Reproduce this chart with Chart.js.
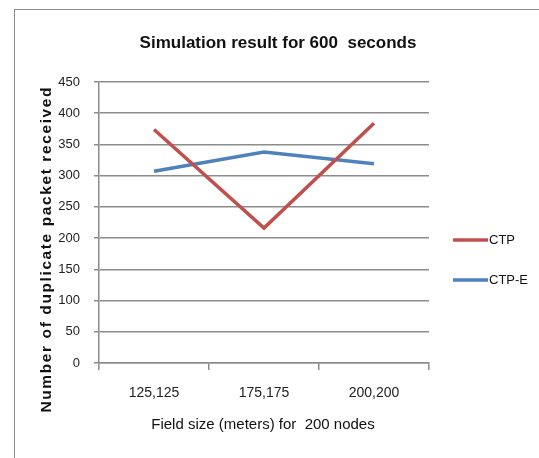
<!DOCTYPE html>
<html>
<head>
<meta charset="utf-8">
<script src="https://cdn.jsdelivr.net/npm/chart.js@4.4.1/dist/chart.umd.min.js"></script>
<style>
  html, body { margin: 0; padding: 0; background: #fff; }
  #wrap { width: 539px; height: 458px; position: relative; }
</style>
</head>
<body>
<div id="wrap"><canvas id="c" width="539" height="458"></canvas></div>
<script>
// data
const categories = ["125,125", "175,175", "200,200"];
const ctpValues = [374, 216, 384];
const ctpEValues = [307, 338, 319];
const seriesNames = ["CTP", "CTP-E"];
const yTicks = [0, 50, 100, 150, 200, 250, 300, 350, 400, 450];

const FONT = "'Liberation Sans', Arial, sans-serif";
const RED = "#c0504d";
const BLUE = "#4f81bd";
const GRID = "#8c8c8c";

// draws text with extra spacing so it spans a given width
function spacedText(ctx, text, cx, cy, targetW) {
  const w = ctx.measureText(text).width;
  const gap = Math.max(0, (targetW - w) / (text.length - 1));
  let x = cx - (w + gap * (text.length - 1)) / 2;
  ctx.textAlign = "left";
  for (const ch of text) {
    ctx.fillText(ch, x, cy);
    x += ctx.measureText(ch).width + gap;
  }
}

// frame, titles and legend drawn around the plot
const decorPlugin = {
  id: "decorPlugin",
  afterDraw(chart) {
    const { ctx } = chart;
    ctx.save();

    // outer frame (only top/left visible in the crop)
    ctx.strokeStyle = "#8a8a8a";
    ctx.lineWidth = 1;
    ctx.beginPath();
    ctx.moveTo(14.5, 458);
    ctx.lineTo(14.5, 9.5);
    ctx.lineTo(539, 9.5);
    ctx.stroke();

    // main title
    ctx.fillStyle = "#111";
    ctx.font = "bold 17px " + FONT;
    ctx.textAlign = "center";
    ctx.textBaseline = "middle";
    ctx.fillText("Simulation result for 600  seconds", 278, 43);

    // x title
    ctx.font = "15px " + FONT;
    ctx.fillText("Field size (meters) for  200 nodes", 263, 425);

    // y title
    ctx.save();
    ctx.translate(47, 250);
    ctx.rotate(-Math.PI / 2);
    ctx.font = "bold 15.5px " + FONT;
    spacedText(ctx, "Number of duplicate packet received", 0, 0, 325);
    ctx.restore();

    // legend
    const items = [
      { label: seriesNames[0], color: RED, y: 240 },
      { label: seriesNames[1], color: BLUE, y: 280 },
    ];
    ctx.textAlign = "left";
    ctx.font = "13px " + FONT;
    items.forEach((it) => {
      ctx.strokeStyle = it.color;
      ctx.lineWidth = 3.5;
      ctx.beginPath();
      ctx.moveTo(453, it.y);
      ctx.lineTo(488, it.y);
      ctx.stroke();
      ctx.fillStyle = "#111";
      ctx.fillText(it.label, 489, it.y);
    });

    ctx.restore();
  },
};

new Chart(document.getElementById("c"), {
  type: "line",
  data: {
    labels: categories,
    datasets: [
      {
        label: seriesNames[0],
        data: ctpValues,
        borderColor: RED,
        borderWidth: 3.5,
        pointRadius: 0,
        tension: 0,
      },
      {
        label: seriesNames[1],
        data: ctpEValues,
        borderColor: BLUE,
        borderWidth: 3.5,
        pointRadius: 0,
        tension: 0,
      },
    ],
  },
  options: {
    responsive: false,
    animation: false,
    devicePixelRatio: 1,
    layout: {
      padding: { top: 82, right: 110, bottom: 35, left: 30 },
    },
    plugins: {
      legend: { display: false },
      title: { display: false },
      tooltip: { enabled: false },
    },
    scales: {
      x: {
        offset: true,
        grid: {
          offset: true,
          drawOnChartArea: false,
          drawTicks: true,
          tickLength: 7,
          color: GRID,
          lineWidth: 1.5,
        },
        border: { display: true, color: GRID, width: 1.5 },
        ticks: {
          color: "#222",
          font: { family: FONT, size: 14 },
          padding: 15,
          maxRotation: 0,
        },
        afterFit: (s) => { s.height = 60; },
      },
      y: {
        min: 0,
        max: 450,
        afterBuildTicks: (s) => { s.ticks = yTicks.map((v) => ({ value: v })); },
        grid: {
          color: GRID,
          lineWidth: 1.5,
          tickLength: 5,
        },
        border: { display: true, color: GRID, width: 1.5 },
        ticks: {
          color: "#222",
          font: { family: FONT, size: 13 },
          padding: 14,
        },
        afterFit: (s) => { s.width = 69; },
      },
    },
  },
  plugins: [decorPlugin],
});
</script>
</body>
</html>
